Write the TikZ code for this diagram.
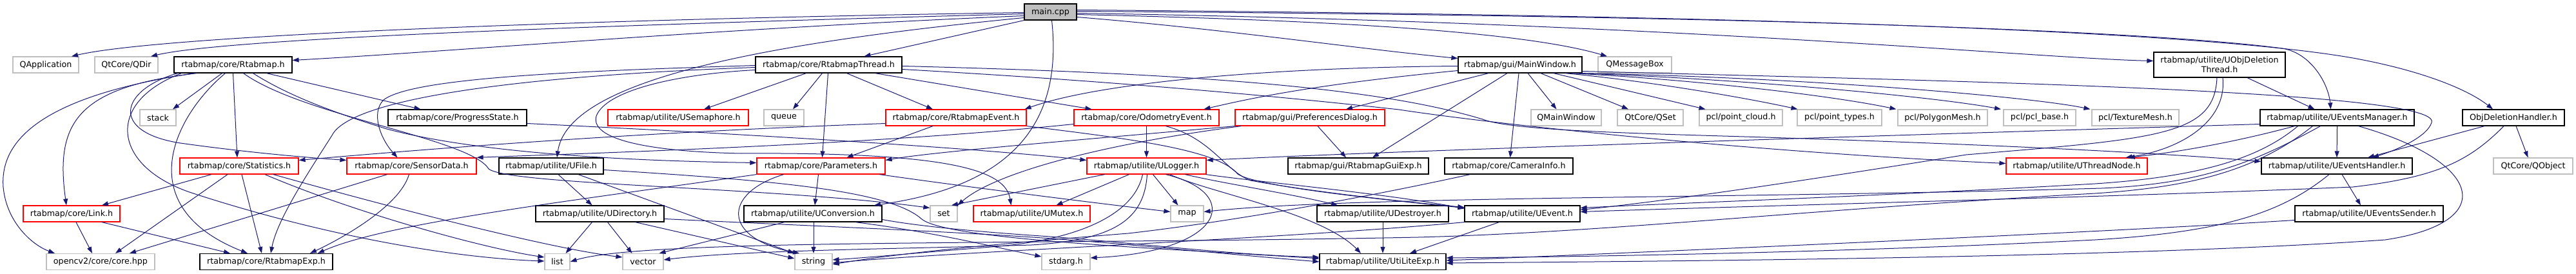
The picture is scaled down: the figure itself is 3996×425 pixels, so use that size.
\documentclass[tikz,border=0pt]{standalone}
\usepackage{fontspec}
\setmainfont{DejaVu Sans}
\usetikzlibrary{arrows.meta}
\definecolor{eblue}{HTML}{191970}
\definecolor{gbord}{HTML}{BFBFBF}
\definecolor{rbord}{HTML}{FF0000}
\definecolor{mfill}{HTML}{BFBFBF}
\begin{document}
\begin{tikzpicture}[x=1pt,y=-1pt,
  box/.style={rectangle, inner sep=0pt, minimum height=25pt, line width=1.2pt, fill=white, font=\fontsize{12.7}{14.5}\selectfont, text=black},
  bk/.style={box, draw=black},
  rd/.style={box, draw=rbord},
  gy/.style={box, draw=gbord},
  dep/.style={draw=eblue, line width=1pt, -{Triangle[length=10pt,width=7pt]}}]
\useasboundingbox (0,0) rectangle (3996,425);
% row 0
\node[bk, fill=mfill, minimum width=81] (main) at (1629.5,18.5) {main.cpp};
% row 1
\node[gy, minimum width=102] (qapp) at (71,100.5) {QApplication};
\node[gy, minimum width=98] (qdir) at (196,100.5) {QtCore/QDir};
\node[bk, minimum width=183] (rtabmap) at (361.5,100.5) {rtabmap/core/Rtabmap.h};
\node[bk, minimum width=227] (rthread) at (1285.5,100.5) {rtabmap/core/RtabmapThread.h};
\node[bk, minimum width=192] (mainwin) at (2358,100.5) {rtabmap/gui/MainWindow.h};
\node[gy, minimum width=114] (qmsg) at (2536,100.5) {QMessageBox};
\node[bk, minimum width=204, minimum height=39, align=center] (uobjdel) at (3443,100.5) {rtabmap/utilite/UObjDeletion\\Thread.h};
% row 2
\node[gy, minimum width=56] (stack) at (245,182.5) {stack};
\node[bk, minimum width=215] (progress) at (709.5,182.5) {rtabmap/core/ProgressState.h};
\node[rd, minimum width=218] (usem) at (1052,182.5) {rtabmap/utilite/USemaphore.h};
\node[gy, minimum width=62] (queue) at (1216,182.5) {queue};
\node[rd, minimum width=218] (revent) at (1483,182.5) {rtabmap/core/RtabmapEvent.h};
\node[rd, minimum width=225] (oevent) at (1778.5,182.5) {rtabmap/core/OdometryEvent.h};
\node[rd, minimum width=232] (pref) at (2032,182.5) {rtabmap/gui/PreferencesDialog.h};
\node[gy, minimum width=109] (qmainw) at (2429.5,182.5) {QMainWindow};
\node[gy, minimum width=102] (qset) at (2560,182.5) {QtCore/QSet};
\node[gy, minimum width=129] (pcloud) at (2700.5,182.5) {pcl/point\_cloud.h};
\node[gy, minimum width=131] (ptypes) at (2853.5,182.5) {pcl/point\_types.h};
\node[gy, minimum width=139] (pmesh) at (3013.5,182.5) {pcl/PolygonMesh.h};
\node[gy, minimum width=112] (pbase) at (3164,182.5) {pcl/pcl\_base.h};
\node[gy, minimum width=135] (tmesh) at (3312.5,182.5) {pcl/TextureMesh.h};
\node[bk, minimum width=239] (uevman) at (3625.5,182.5) {rtabmap/utilite/UEventsManager.h};
\node[bk, minimum width=158] (objdel) at (3899,182.5) {ObjDeletionHandler.h};
% row 3
\node[rd, minimum width=184] (stats) at (371,257.5) {rtabmap/core/Statistics.h};
\node[rd, minimum width=201] (sensor) at (638.5,257.5) {rtabmap/core/SensorData.h};
\node[bk, minimum width=162] (ufile) at (855,257.5) {rtabmap/utilite/UFile.h};
\node[rd, minimum width=199] (params) at (1273.5,257.5) {rtabmap/core/Parameters.h};
\node[rd, minimum width=185] (ulogger) at (1778.5,257.5) {rtabmap/utilite/ULogger.h};
\node[bk, minimum width=218] (guiexp) at (2107,257.5) {rtabmap/gui/RtabmapGuiExp.h};
\node[bk, minimum width=199] (caminfo) at (2340.5,257.5) {rtabmap/core/CameraInfo.h};
\node[rd, minimum width=219] (uthread) at (3221.5,257.5) {rtabmap/utilite/UThreadNode.h};
\node[bk, minimum width=234] (uevhand) at (3625,257.5) {rtabmap/utilite/UEventsHandler.h};
\node[gy, minimum width=123] (qobject) at (3929.5,257.5) {QtCore/QObject};
% row 4
\node[rd, minimum width=150] (link) at (111,331.5) {rtabmap/core/Link.h};
\node[bk, minimum width=199] (udir) at (930.5,331.5) {rtabmap/utilite/UDirectory.h};
\node[bk, minimum width=214] (uconv) at (1261,331.5) {rtabmap/utilite/UConversion.h};
\node[gy, minimum width=42] (set) at (1464,331.5) {set};
\node[rd, minimum width=181] (umutex) at (1600.5,331.5) {rtabmap/utilite/UMutex.h};
\node[gy, minimum width=51] (map) at (1841.5,331.5) {map};
\node[bk, minimum width=204] (udestroy) at (2145,331.5) {rtabmap/utilite/UDestroyer.h};
\node[bk, minimum width=179] (uevent) at (2361.5,331.5) {rtabmap/utilite/UEvent.h};
\node[bk, minimum width=230] (uevsend) at (3675,331.5) {rtabmap/utilite/UEventsSender.h};
% row 5
\node[gy, minimum width=168] (corehpp) at (156,406) {opencv2/core/core.hpp};
\node[bk, minimum width=206] (rexp) at (413,406) {rtabmap/core/RtabmapExp.h};
\node[gy, minimum width=39] (list) at (864.5,406) {list};
\node[gy, minimum width=63] (vector) at (997.5,406) {vector};
\node[gy, minimum width=58] (string) at (1262,406) {string};
\node[gy, minimum width=75] (stdarg) at (1653.5,406) {stdarg.h};
\node[bk, minimum width=196] (utexp) at (2145,406) {rtabmap/utilite/UtiLiteExp.h};

% ---- main.cpp
\draw[dep] ([yshift=-1]main.west) .. controls (900,30) and (250,55) .. ([xshift=40]qapp.north);
\draw[dep] ([yshift=-3]main.west) .. controls (900,40) and (350,60) .. ([xshift=38]qdir.north);
\draw[dep] ([yshift=-6]main.west) .. controls (1100,45) and (700,80) .. ([yshift=7]rtabmap.east);
\draw[dep] (main.south west) -- ([xshift=55]rthread.north);
\draw[dep] ([yshift=-9]main.west) .. controls (1150,70) and (880,130) .. ([xshift=9]ufile.north);
\draw[dep] ([xshift=2]main.south) .. controls (1650,200) and (1560,290) .. ([xshift=95]uconv.north);
\draw[dep] ([yshift=-8]main.east) .. controls (1900,45) and (2100,75) .. ([yshift=10]mainwin.west);
\draw[dep] ([yshift=-4]main.east) .. controls (2000,30) and (2350,45) .. ([xshift=-43]qmsg.north);
\draw[dep] ([yshift=-2]main.east) .. controls (2600,35) and (3150,90) .. ([yshift=6]uobjdel.west);
\draw[dep] ([yshift=1]main.east) .. controls (2800,25) and (3350,50) .. (3540,75) .. controls (3585,82) and (3612,130) .. ([xshift=-10]uevman.north);
\draw[dep] ([yshift=3]main.east) .. controls (2900,25) and (3450,55) .. (3650,90) .. controls (3760,110) and (3830,140) .. ([xshift=-32]objdel.north);
% ---- Rtabmap.h
\draw[dep] ([xshift=-17]rtabmap.south) -- ([xshift=23]stack.north);
\draw[dep] ([xshift=52]rtabmap.south) -- ([xshift=-57]progress.north);
\draw[dep] (rtabmap.south) -- ([xshift=-3]stats.north);
\draw[dep] ([xshift=-86]rtabmap.south) .. controls (185,140) and (170,205) .. (280,222) .. controls (380,236) and (470,244) .. ([yshift=9]sensor.west);
\draw[dep] ([xshift=-56]rtabmap.south) .. controls (120,135) and (85,190) .. ([xshift=-8]link.north);
\draw[dep] ([xshift=-60]rtabmap.south) .. controls (60,150) and (0,220) .. (5,290) .. controls (10,345) and (50,380) .. ([xshift=-71]corehpp.north);
\draw[dep] ([xshift=-12]rtabmap.south) .. controls (270,180) and (200,320) .. ([xshift=-29]rexp.north);
\draw[dep] ([xshift=-80]rtabmap.south) .. controls (160,160) and (175,260) .. (300,300) .. controls (500,365) and (700,400) .. ([yshift=1]list.west);
\draw[dep] ([xshift=31]rtabmap.south) .. controls (450,150) and (520,175) .. (600,200) .. controls (750,240) and (1000,250) .. ([yshift=5]params.west);
\draw[dep] ([xshift=16]rtabmap.south) .. controls (470,180) and (730,215) .. (758,262) .. controls (790,287) and (1200,290) .. ([yshift=9]set.west);
% ---- Statistics.h
\draw[dep] ([xshift=-43]stats.south) -- ([xshift=47]link.north);
\draw[dep] ([xshift=-18]stats.south) -- ([xshift=23]corehpp.north);
\draw[dep] ([xshift=4]stats.south) -- ([xshift=-7]rexp.north);
\draw[dep] ([xshift=40]stats.south) .. controls (550,330) and (750,385) .. ([yshift=7]list.west);
\draw[dep] ([xshift=53]stats.south) .. controls (600,320) and (850,385) .. ([yshift=7]vector.west);
% ---- SensorData.h, Link.h
\draw[dep] ([xshift=-38]sensor.south) -- ([xshift=45]corehpp.north);
\draw[dep] ([xshift=-4]sensor.south) .. controls (620,320) and (530,370) .. ([xshift=68]rexp.north);
\draw[dep] ([xshift=7]link.south) -- ([xshift=-13]corehpp.north);
\draw[dep] ([xshift=47]link.south) -- ([xshift=-56]rexp.north);
% ---- ProgressState.h
\draw[dep] ([yshift=-9]progress.east) .. controls (1100,205) and (1500,228) .. ([yshift=9]ulogger.west);
% ---- RtabmapThread.h
\draw[dep] ([xshift=-35]rthread.south) -- ([xshift=40]usem.north);
\draw[dep] ([xshift=-10]rthread.south) -- ([xshift=14]queue.north);
\draw[dep] ([xshift=-1]rthread.south) -- ([xshift=2]params.north);
\draw[dep] ([xshift=28]rthread.south) -- ([xshift=-36]revent.north);
\draw[dep] ([xshift=72]rthread.south) -- ([xshift=-85]oevent.north);
\draw[dep] ([yshift=-1]rthread.west) .. controls (900,110) and (640,120) .. (595,155) .. controls (575,175) and (590,215) .. ([xshift=-22]sensor.north);
\draw[dep] ([yshift=-4]rthread.west) .. controls (750,120) and (540,160) .. (515,210) .. controls (480,265) and (430,340) .. ([xshift=7]rexp.north);
\draw[dep] ([yshift=-8]rthread.west) .. controls (1050,115) and (940,140) .. (925,180) .. controls (915,215) and (1000,235) .. (1150,238) .. controls (1480,236) and (1560,265) .. ([xshift=-32]umutex.north);
\draw[dep] ([yshift=-7]rthread.east) .. controls (1800,130) and (2060,158) .. (2170,170) .. controls (2300,190) and (2700,235) .. ([yshift=4]uthread.west);
\draw[dep] ([yshift=-2]rthread.east) .. controls (1900,115) and (2150,140) .. (2300,185) .. controls (2350,205) and (2600,208) .. (2800,215) .. controls (3100,225) and (3350,237) .. ([yshift=7]uevhand.west);
% ---- MainWindow.h
\draw[dep] ([yshift=-2]mainwin.west) .. controls (1950,105) and (1700,130) .. ([xshift=-3]revent.north east);
\draw[dep] ([yshift=-9]mainwin.west) .. controls (2050,130) and (1950,150) .. ([xshift=89]oevent.north);
\draw[dep] ([xshift=-49]mainwin.south) -- ([xshift=56]pref.north);
\draw[dep] ([xshift=-20]mainwin.south) -- ([xshift=22]guiexp.north);
\draw[dep] ([xshift=-2]mainwin.south) -- ([xshift=2]caminfo.north);
\draw[dep] ([xshift=12]mainwin.south) -- ([xshift=-15]qmainw.north);
\draw[dep] ([xshift=32]mainwin.south) -- ([xshift=-34]qset.north);
\draw[dep] ([xshift=52]mainwin.south) -- ([xshift=-55]pcloud.north);
\draw[dep] ([xshift=70]mainwin.south) .. controls (2550,125) and (2700,150) .. ([xshift=-65]ptypes.north);
\draw[dep] ([xshift=80]mainwin.south) .. controls (2650,125) and (2850,150) .. ([xshift=-72]pmesh.north);
\draw[dep] ([xshift=88]mainwin.south) .. controls (2700,122) and (3000,150) .. ([xshift=-60]pbase.north);
\draw[dep] ([xshift=94]mainwin.south) .. controls (2800,120) and (3150,150) .. ([xshift=-70]tmesh.north);
\draw[dep] ([yshift=-10]mainwin.east) .. controls (3000,125) and (3790,140) .. (3772,190) .. controls (3765,212) and (3720,232) .. ([xshift=55]uevhand.north);
% ---- PreferencesDialog.h
\draw[dep] ([xshift=12]pref.south) -- ([xshift=-19]guiexp.north);
\draw[dep] ([xshift=-107]pref.south) .. controls (1700,225) and (1540,270) .. (set.north east);
\draw[dep] (pref.south west) .. controls (1700,215) and (1450,235) .. ([yshift=9]params.east);
% ---- OdometryEvent.h
\draw[dep] (oevent.south) -- (ulogger.north);
\draw[dep] ([yshift=-10]oevent.west) .. controls (1350,225) and (900,238) .. (sensor.north east);
\draw[dep] ([xshift=30]oevent.south) .. controls (1880,215) and (1900,265) .. (1940,280) .. controls (2050,300) and (2200,315) .. ([yshift=10]uevent.west);
% ---- RtabmapEvent.h
\draw[dep] ([xshift=-36]revent.south) -- ([xshift=40]params.north);
\draw[dep] ([yshift=-9]revent.west) .. controls (1000,205) and (700,228) .. ([yshift=9]stats.east);
\draw[dep] (revent.south east) .. controls (1750,215) and (1890,232) .. (1920,270) .. controls (1950,290) and (2150,310) .. ([yshift=9]uevent.west);
% ---- ULogger.h
\draw[dep] ([xshift=-65]ulogger.south) -- ([xshift=12]set.north);
\draw[dep] ([xshift=-27]ulogger.south) -- ([xshift=38]umutex.north);
\draw[dep] ([xshift=10]ulogger.south) -- ([xshift=-14]map.north);
\draw[dep] ([xshift=30]ulogger.south) .. controls (1930,300) and (1900,390) .. ([yshift=6]stdarg.east);
\draw[dep] ([xshift=-6]ulogger.south) .. controls (1760,330) and (1680,370) .. (1550,382) .. controls (1450,390) and (1340,400) .. ([yshift=3]string.east);
\draw[dep] ([xshift=1]ulogger.south) .. controls (1775,340) and (1730,372) .. (1600,380) .. controls (1400,386) and (1150,388) .. ([yshift=3]vector.east);
\draw[dep] ([xshift=60]ulogger.south) .. controls (1900,285) and (2000,300) .. ([xshift=-70]udestroy.north);
\draw[dep] ([xshift=92]ulogger.south) .. controls (1950,282) and (2150,300) .. ([yshift=8]uevent.west);
\draw[dep] ([xshift=36]ulogger.south) .. controls (1880,300) and (2050,330) .. ([xshift=-34]utexp.north);
% ---- Parameters.h
\draw[dep] ([xshift=-4]params.south) -- ([xshift=3]uconv.north);
\draw[dep] ([xshift=-58]params.south) .. controls (1120,300) and (1120,370) .. ([xshift=-22]string.north);
\draw[dep] (params.south west) .. controls (900,310) and (600,345) .. ([xshift=80]rexp.north);
\draw[dep] ([xshift=91]params.south) .. controls (1500,290) and (1700,315) .. ([yshift=3]map.west);
% ---- UFile.h
\draw[dep] ([xshift=11]ufile.south) -- ([xshift=-12]udir.north);
\draw[dep] ([xshift=42]ufile.south) -- ([xshift=-30]string.north);
\draw[dep] ([yshift=-6]ufile.east) .. controls (1200,280) and (1380,295) .. (1430,340) .. controls (1470,372) and (1800,385) .. ([yshift=5]utexp.west);
% ---- UDirectory.h
\draw[dep] ([xshift=-12]udir.south) -- ([xshift=13]list.north);
\draw[dep] ([xshift=12]udir.south) -- ([xshift=-17]vector.north);
\draw[dep] ([xshift=55]udir.south) -- ([yshift=5]string.west);
\draw[dep] ([yshift=-8]udir.east) .. controls (1250,350) and (1380,355) .. (1500,362) .. controls (1700,372) and (1850,390) .. (utexp.west);
% ---- UConversion.h
\draw[dep] ([xshift=1]uconv.south) -- (string.north);
\draw[dep] ([xshift=-44]uconv.south) -- ([xshift=25]vector.north);
\draw[dep] ([xshift=66]uconv.south) .. controls (1450,360) and (1550,385) .. ([yshift=8]stdarg.west);
\draw[dep] ([yshift=-9]uconv.east) .. controls (1420,350) and (1500,358) .. (1600,365) .. controls (1750,375) and (1900,395) .. ([yshift=7]utexp.west);
% ---- UDestroyer.h, UEvent.h, CameraInfo.h
\draw[dep] (udestroy.south) -- (utexp.north);
\draw[dep] ([xshift=-36]uevent.south) -- ([xshift=42]utexp.north);
\draw[dep] (uevent.south west) .. controls (2000,370) and (1450,392) .. ([yshift=-2]string.east);
\draw[dep] ([xshift=-60]caminfo.south) .. controls (2100,310) and (1900,345) .. (1750,362) .. controls (1550,378) and (1400,392) .. ([yshift=-4]string.east);
% ---- UEventsManager.h
\draw[dep] (uevman.south) -- (uevhand.north);
\draw[dep] ([xshift=-66]uevman.south) .. controls (3450,225) and (3360,238) .. ([xshift=80]uthread.north);
\draw[dep] ([yshift=-10]uevman.west) .. controls (3100,205) and (2200,232) .. ([yshift=9]ulogger.east);
\draw[dep] ([xshift=-61]uevman.south) .. controls (3500,250) and (3400,275) .. (3250,285) .. controls (2900,305) and (2600,315) .. ([yshift=9]uevent.east);
\draw[dep] ([xshift=-38]uevman.south) .. controls (3500,265) and (3400,290) .. (3250,300) .. controls (2800,325) and (2500,360) .. (2200,368) .. controls (1600,380) and (1000,370) .. (list.east);
\draw[dep] ([xshift=-26]uevman.south) .. controls (3500,250) and (3420,285) .. (3260,292) .. controls (2700,308) and (2100,304) .. ([yshift=3]map.east);
\draw[dep] ([xshift=33]uevman.south) .. controls (3850,250) and (3880,345) .. (3700,372) .. controls (3300,400) and (2600,405) .. ([yshift=-2]utexp.east);
% ---- UObjDeletionThread.h
\draw[dep] ([xshift=43]uobjdel.south) -- ([xshift=-35]uevman.north);
\draw[dep] ([xshift=5]uobjdel.south) .. controls (3455,190) and (3380,232) .. ([xshift=76]uthread.north);
\draw[dep] ([xshift=-4]uobjdel.south) .. controls (3435,210) and (3350,215) .. (3050,240) .. controls (2800,280) and (2600,310) .. ([yshift=6]uevent.east);
% ---- ObjDeletionHandler.h
\draw[dep] ([xshift=-45]objdel.south) -- ([xshift=48]uevhand.north);
\draw[dep] ([xshift=4]objdel.south) -- ([xshift=-8]qobject.north);
\draw[dep] ([xshift=-15]objdel.south) .. controls (3830,250) and (3780,275) .. (3650,290) .. controls (3300,305) and (2700,320) .. ([yshift=3]uevent.east);
% ---- UEventsHandler.h, UEventsSender.h
\draw[dep] ([xshift=8]uevhand.south) -- ([xshift=-13]uevsend.north);
\draw[dep] ([xshift=-12]uevhand.south) .. controls (3540,330) and (3450,360) .. (3250,372) .. controls (2900,390) and (2500,398) .. ([yshift=6]utexp.east);
\draw[dep] ([yshift=-10]uevsend.west) .. controls (3300,358) and (2700,385) .. ([yshift=2]utexp.east);
\end{tikzpicture}
\end{document}
